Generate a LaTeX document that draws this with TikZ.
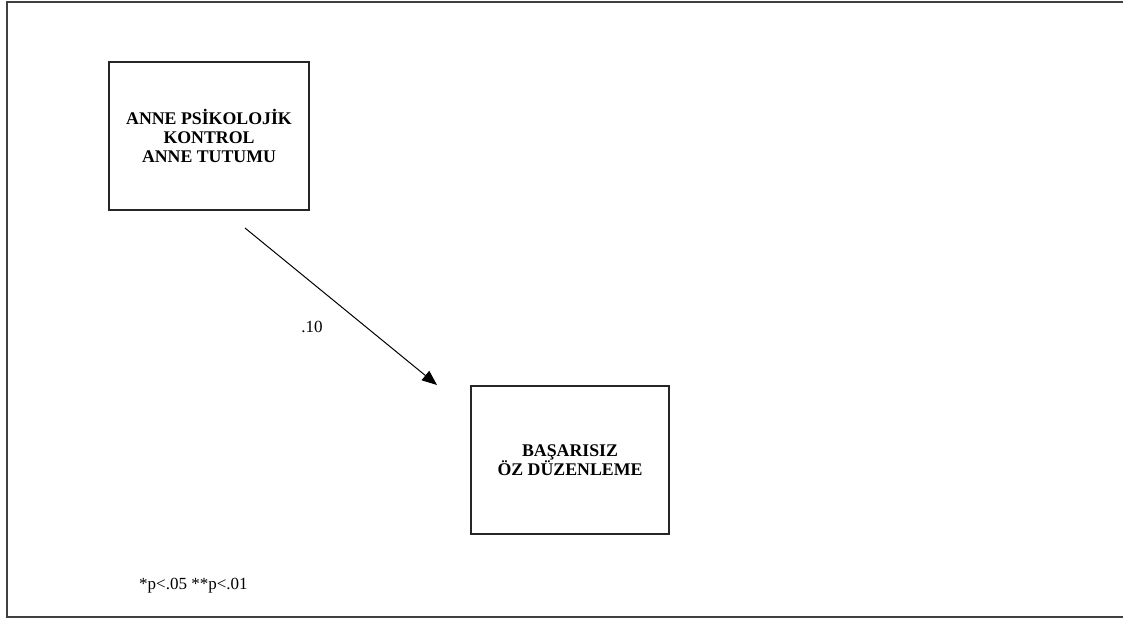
\documentclass[tikz,border=0pt]{standalone}
\usepackage{fontspec}
\setmainfont{Liberation Serif}
\usetikzlibrary{arrows.meta}
\begin{document}
\begin{tikzpicture}[x=1pt,y=-1pt,
  frameline/.style={draw=black!75,line width=1.8pt},
  varbox/.style={draw=black!85,line width=1.3pt,rectangle,align=center,
    font=\fontsize{17.8}{19}\selectfont\bfseries,inner sep=0pt},
  path/.style={draw=black,line width=1pt,-{Triangle[length=15pt,width=12pt]}},
  coef/.style={font=\fontsize{17}{19}\selectfont,inner sep=0pt}]
\useasboundingbox (0,0) rectangle (1123,619);
% outer frame (open on the right)
\draw[frameline] (1124,2) -- (6.8,2) -- (6.8,617) -- (1124,617);
% variables
\node[varbox,minimum width=200pt,minimum height=148pt] (anne) at (209,136)
  {ANNE PSİKOLOJİK\\KONTROL\\ANNE TUTUMU};
\node[varbox,minimum width=198pt,minimum height=148pt] (oz) at (570,460)
  {BAŞARISIZ\\ÖZ DÜZENLEME};
% path
\coordinate (pstart) at (245,228);
\coordinate (pend) at (437,385);
\draw[path] (pstart) -- (pend);
\node[coef] (beta) at (312,327) {.10};
% significance note
\node[coef,anchor=west] (note) at (139,586) {*p<.05 **p<.01};
\end{tikzpicture}
\end{document}
